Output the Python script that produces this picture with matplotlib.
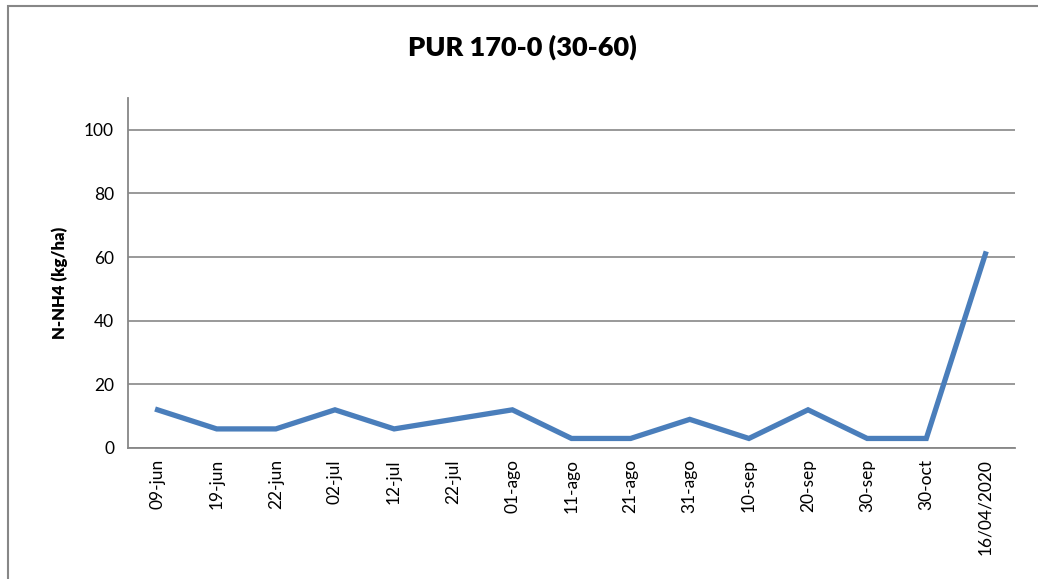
import matplotlib
matplotlib.use('Agg')
import matplotlib.pyplot as plt
from matplotlib.patches import Rectangle

# ── data ──────────────────────────────────────────────────────────────────────
fechas = ['09-jun', '19-jun', '22-jun', '02-jul', '12-jul', '22-jul', '01-ago',
          '11-ago', '21-ago', '31-ago', '10-sep', '20-sep', '30-sep', '30-oct',
          '16/04/2020']
nh4 = [12, 6, 6, 12, 6, 9, 12, 3, 3, 9, 3, 12, 3, 3, 61]
yticks = [0, 20, 40, 60, 80, 100]

plt.rcParams['font.family'] = ['Lato', 'DejaVu Sans']

fig = plt.figure(figsize=(10.38, 5.79), dpi=100)
ax = fig.add_axes([128/1038, 1 - 448/579, (1015 - 128)/1038, (448 - 98)/579])

x = list(range(len(fechas)))
ax.plot(x, nh4, color='#4A7EBB', lw=3.8, solid_joinstyle='miter', zorder=3)

ax.set_xlim(-0.5, len(fechas) - 0.5)
ax.set_ylim(0, 110)
ax.set_yticks(yticks)
ax.set_xticks(x)
ax.set_xticklabels(fechas, rotation=90, fontsize=12.5)
ax.tick_params(axis='y', labelsize=12.5, length=0, pad=10)
ax.tick_params(axis='x', length=0, pad=8)
ax.grid(axis='y', color='#878787', lw=1.2, zorder=1)

for s in ['top', 'right']:
    ax.spines[s].set_visible(False)
for s in ['left', 'bottom']:
    ax.spines[s].set_color('#878787')
    ax.spines[s].set_linewidth(1.3)

ax.set_ylabel('N-NH4 (kg/ha)', fontsize=12, fontweight='heavy')
ax.yaxis.set_label_coords(-0.068, 0.472)
fig.text(522/1038, 1 - 47/579, 'PUR 170-0 (30-60)', ha='center', va='center',
         fontsize=19.5, fontweight='heavy')

# chart frame (cropped on right/bottom)
fig.patches.append(Rectangle((8/1038, -0.1), 1.2, 1 - 6/579 + 0.1,
                             transform=fig.transFigure, fill=False,
                             edgecolor='#878787', lw=1.5))

fig.savefig('out.png', dpi=100)
